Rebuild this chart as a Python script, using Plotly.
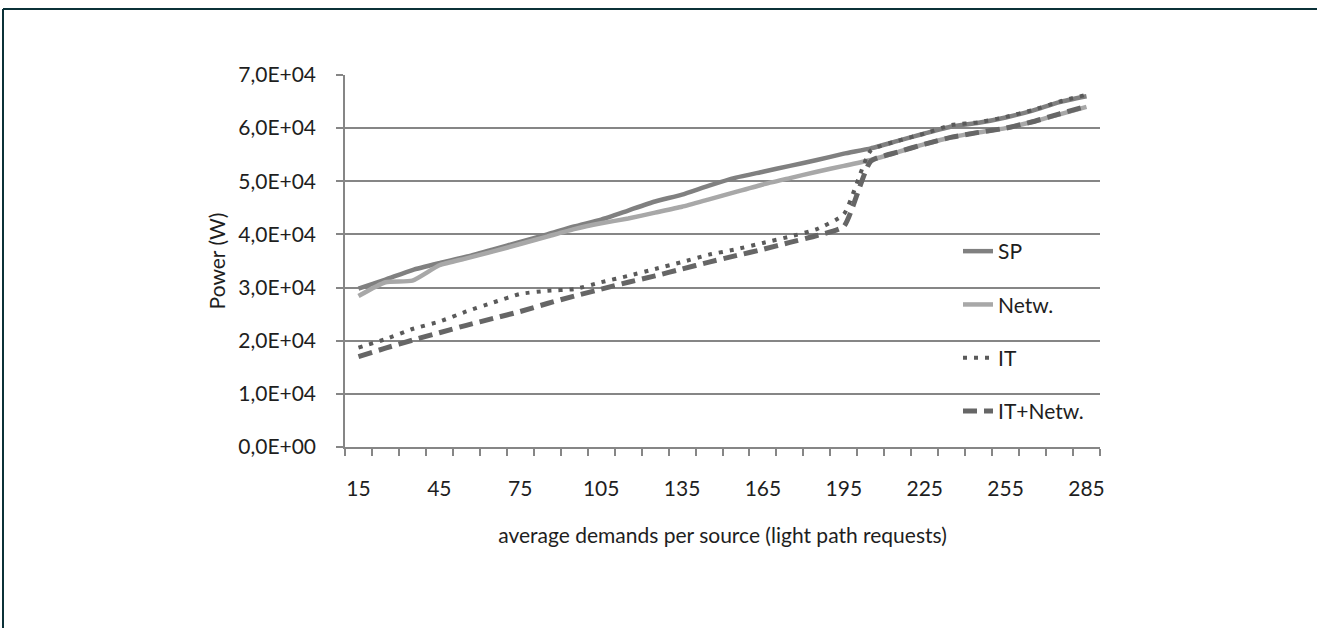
import plotly.graph_objects as go

# ---------------- data ----------------
demands = [15, 25, 35, 45, 55, 65, 75, 85, 95, 105, 115, 125, 135, 145,
           155, 165, 175, 185, 195, 205, 215, 225, 235, 245, 255, 265, 275, 285]

sp = [29800, 31500, 33300, 34600, 35800, 37200, 38600, 40000, 41500, 42800,
      44500, 46200, 47500, 49200, 50700, 51800, 52900, 54000, 55200, 56200,
      57600, 59000, 60300, 61000, 62000, 63300, 64900, 66000]

netw = [28400, 31000, 31300, 34200, 35500, 36800, 38200, 39600, 41000, 42100,
        43000, 44100, 45200, 46600, 48000, 49400, 50600, 51800, 52900, 54000,
        55500, 57000, 58300, 59200, 60000, 61200, 62600, 64000]

it = [18700, 20300, 22200, 23600, 25500, 27200, 28800, 29400, 29700, 31000,
      32200, 33500, 34800, 36200, 37200, 38400, 39600, 41000, 43800, 55800,
      57600, 59000, 60600, 61100, 62100, 63400, 65000, 66300]

it_netw = [17000, 18600, 20100, 21500, 22900, 24200, 25500, 27000, 28400, 29700,
           31000, 32200, 33500, 34800, 36000, 37200, 38500, 39800, 41500, 53800,
           55500, 57000, 58300, 59200, 60000, 61200, 62700, 64100]

series_names = ["SP", "Netw.", "IT", "IT+Netw."]

x_tick_vals = [15, 45, 75, 105, 135, 165, 195, 225, 255, 285]
y_tick_vals = [0, 10000, 20000, 30000, 40000, 50000, 60000, 70000]
y_tick_text = ["0,0E+00", "1,0E+04", "2,0E+04", "3,0E+04",
               "4,0E+04", "5,0E+04", "6,0E+04", "7,0E+04"]

# ---------------- layout constants ----------------
W, H = 1317, 628
ML, MR, MT, MB = 345, 217, 75, 181
PW, PH = W - ML - MR, H - MT - MB


def px_x(p):
    return (p - ML) / PW


def px_y(p):
    return (H - MB - p) / PH


FONT = "Lato"
TXT = "#1e1e1e"
AXC = "#868686"

styles = [
    dict(color="#808080", width=4.5, dash="solid"),
    dict(color="#a8a8a8", width=4.5, dash="solid"),
    dict(color="#5a5a5a", width=4, dash="4px,7px"),
    dict(color="#666666", width=5, dash="14px,7px"),
]

fig = go.Figure()
for name, vals, st in zip(series_names, [sp, netw, it, it_netw], styles):
    fig.add_trace(go.Scatter(
        x=demands, y=vals, name=name, mode="lines",
        line=dict(color=st["color"], width=st["width"], dash=st["dash"],
                  shape="spline", smoothing=0.5),
        legendgroup=name,
    ))

fig.update_layout(
    width=W, height=H,
    margin=dict(l=ML, r=MR, t=MT, b=MB, pad=0),
    paper_bgcolor="white", plot_bgcolor="white",
    font=dict(family=FONT, size=21, color=TXT),
    showlegend=True,
    legend=dict(
        x=px_x(958), y=px_y(231), xanchor="left", yanchor="top",
        bgcolor="rgba(0,0,0,0)", borderwidth=0,
        font=dict(family=FONT, size=21, color=TXT),
        tracegroupgap=23, itemwidth=30,
    ),
    xaxis=dict(
        range=[10, 290], tickmode="array", tickvals=x_tick_vals,
        ticks="", showgrid=False, zeroline=False,
        showline=True, linecolor=AXC, linewidth=1.5,
        tickfont=dict(family=FONT, size=21, color=TXT),
        ticklabelstandoff=22,
        minor=dict(tickmode="linear", tick0=10, dtick=10, ticks="outside",
                   ticklen=7, tickcolor=AXC, tickwidth=1.5, showgrid=False),
        title=dict(text="average demands per source (light path requests)",
                   font=dict(family=FONT, size=21, color=TXT), standoff=29),
    ),
    yaxis=dict(
        range=[0, 70000], tickmode="array", tickvals=y_tick_vals,
        ticktext=y_tick_text, ticks="outside", ticklen=7, tickcolor=AXC,
        tickwidth=1.5, showgrid=True, gridcolor=AXC, gridwidth=1.5,
        zeroline=False, showline=True, linecolor=AXC, linewidth=1.5,
        tickfont=dict(family=FONT, size=21, color=TXT),
        ticklabelstandoff=16,
        title=dict(text="Power (W)", font=dict(family=FONT, size=21, color=TXT),
                   standoff=7),
    ),
    shapes=[
        dict(type="line", xref="paper", yref="paper",
             x0=px_x(3), x1=px_x(1330), y0=px_y(9), y1=px_y(9),
             line=dict(color="#0b3138", width=2)),
        dict(type="line", xref="paper", yref="paper",
             x0=px_x(3), x1=px_x(3), y0=px_y(9), y1=px_y(640),
             line=dict(color="#0b3138", width=2)),
    ],
)

fig.write_html("out.html", config={"displayModeBar": False},
               post_script="document.body.style.margin='0';")
